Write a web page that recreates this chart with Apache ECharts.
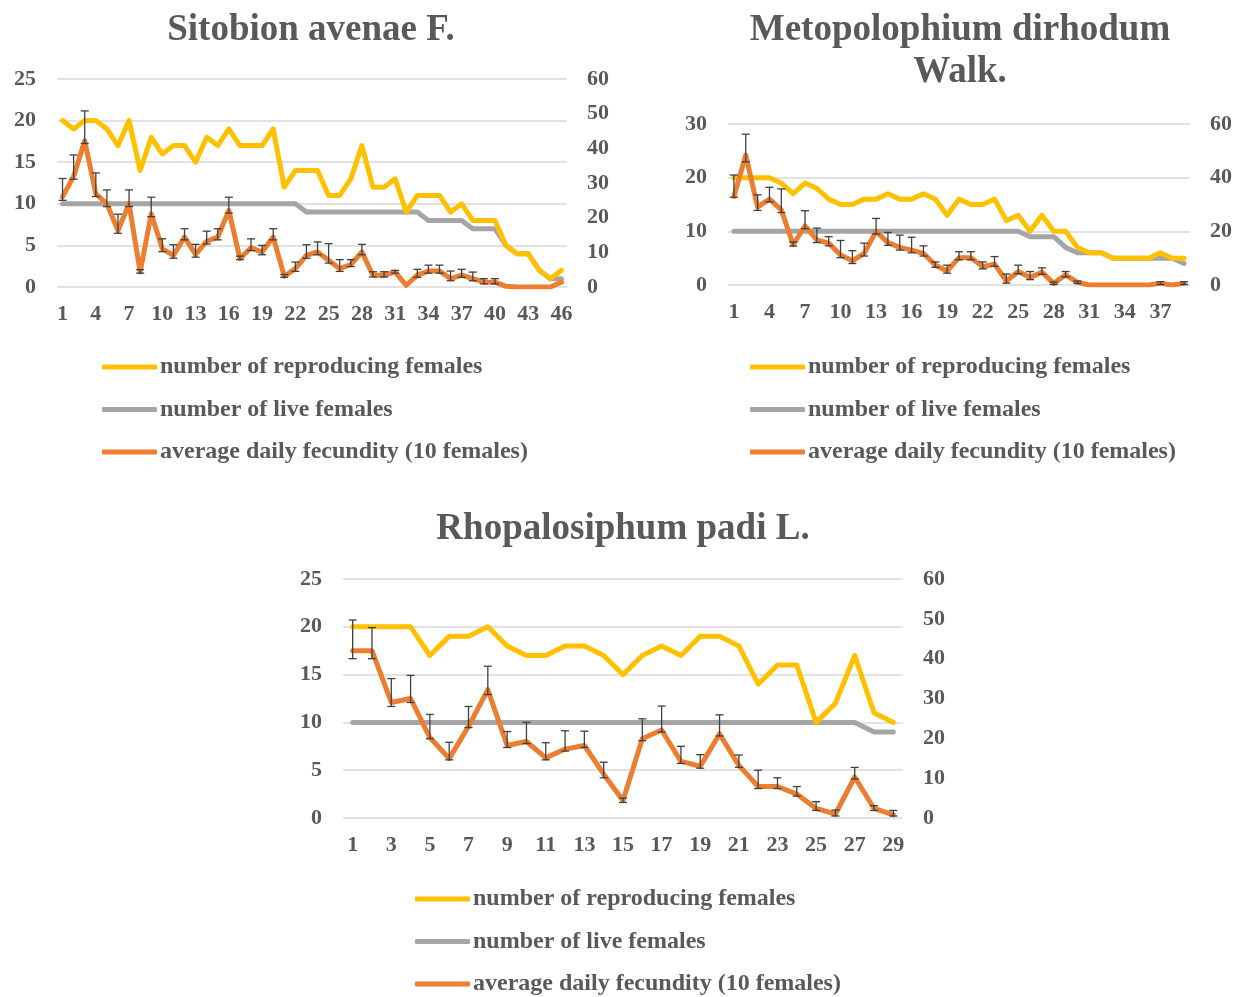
<!DOCTYPE html>
<html>
<head>
<meta charset="utf-8">
<script src="https://cdn.jsdelivr.net/npm/echarts@6/dist/echarts.min.js"></script>
<style>
  html, body { margin: 0; padding: 0; background: #ffffff; }
  #chart { width: 1245px; height: 997px; }
</style>
</head>
<body>
<div id="chart"></div>
<script>
// ---------- DATA ----------
const seriesNames = ['number of reproducing females', 'number of live females', 'average daily fecundity (10 females)'];

// Sitobion avenae F. (46 days)
const sitoDays = Array.from({length: 46}, (_, i) => String(i + 1));
const sitoReproducing = [20,19,20,20,19,17,20,14,18,16,17,17,15,18,17,19,17,17,17,19,12,14,14,14,11,11,13,17,12,12,13,9,11,11,11,9,10,8,8,8,5,4,4,2,1,2];
const sitoLive = [10,10,10,10,10,10,10,10,10,10,10,10,10,10,10,10,10,10,10,10,10,10,9,9,9,9,9,9,9,9,9,9,9,8,8,8,8,7,7,7,5,4,4,2,1,1];
const sitoFecundity = [26.0,31.9,42.2,26.9,24.0,16.3,24.0,4.3,21.1,11.0,9.1,14.4,9.4,13.2,14.4,22.1,8.2,11.3,10.1,14.4,3.1,5.3,9.1,10.1,7.7,5.3,6.5,10.1,3.4,3.4,4.3,0.5,3.4,4.6,4.6,2.4,3.4,2.4,1.4,1.4,0.2,0,0,0,0,1.4];
const sitoErrHigh = [5.3,6.2,8.6,6.0,4.0,4.7,4.0,0.7,4.8,2.9,3.1,2.4,2.9,2.9,2.4,3.8,0.7,2.6,1.9,2.4,0.5,1.9,3.1,2.9,4.8,2.6,1.4,2.2,1.0,1.0,0.5,0,1.7,1.7,1.7,2.2,1.7,1.9,1.0,1.0,0,0,0,0,0,0];
const sitoErrLow = [1.0,0.8,0.8,0.8,0.8,0.8,0.8,0.3,0.8,0.8,0.8,0.8,0.8,0.8,0.8,0.8,0.3,0.8,0.8,0.8,0.3,0.8,0.8,0.8,0.8,0.8,0.6,0.8,0.5,0.5,0.3,0,0.6,0.6,0.6,0.6,0.6,0.6,0.5,0.5,0,0,0,0,0,0];

// Metopolophium dirhodum Walk. (39 days)
const metoDays = Array.from({length: 39}, (_, i) => String(i + 1));
const metoReproducing = [20,20,20,20,19,17,19,18,16,15,15,16,16,17,16,16,17,16,13,16,15,15,16,12,13,10,13,10,10,7,6,6,5,5,5,5,6,5,5];
const metoLive = [10,10,10,10,10,10,10,10,10,10,10,10,10,10,10,10,10,10,10,10,10,10,10,10,10,9,9,9,7,6,6,6,5,5,5,5,5,5,4];
const metoFecundity = [33.0,48.4,29.0,32.0,28.0,15.0,22.0,16.8,15.6,11.2,9.0,11.8,20.0,15.8,14.0,13.0,11.8,7.4,5.2,10.2,10.2,6.8,7.8,1.5,5.0,2.8,4.8,0.6,3.8,1.0,0,0,0,0,0,0,0.6,0,0.6];
const metoErrHigh = [8.0,7.8,4.6,4.4,7.8,1.0,5.7,4.4,2.4,5.4,3.8,3.8,4.8,3.8,4.6,4.8,2.8,1.2,2.2,2.2,2.2,1.8,2.8,2.6,2.4,2.2,1.6,0.5,1.2,0.5,0,0,0,0,0,0,0.6,0,0.6];
const metoErrLow = [0.3,2.5,1.2,1.0,1.0,0.5,1.0,1.0,1.0,1.0,1.0,1.0,1.0,1.0,1.0,1.0,1.0,0.8,0.8,0.8,0.8,0.8,0.8,0.8,0.8,0.8,0.8,0.4,0.8,0.4,0,0,0,0,0,0,0.4,0,0.4];

// Rhopalosiphum padi L. (29 days)
const rhoDays = Array.from({length: 29}, (_, i) => String(i + 1));
const rhoReproducing = [20,20,20,20,17,19,19,20,18,17,17,18,18,17,15,17,18,17,19,19,18,14,16,16,10,12,17,11,10];
const rhoLive = [10,10,10,10,10,10,10,10,10,10,10,10,10,10,10,10,10,10,10,10,10,10,10,10,10,10,10,9,9];
const rhoFecundity = [42.0,42.0,29.0,30.0,20.2,14.9,23.0,32.2,18.2,19.2,15.1,17.3,18.2,11.0,4.4,19.9,22.1,14.2,13.0,21.1,13.2,7.9,7.9,6.0,2.4,1.0,10.3,2.4,0.8];
const rhoErrHigh = [7.7,5.8,6.0,5.8,5.8,4.1,5.0,5.9,3.5,4.8,3.8,4.6,3.6,3.0,0.6,5.0,6.0,3.8,2.9,4.8,2.6,4.1,2.2,1.9,1.7,1.0,2.4,0.7,1.1];
const rhoErrLow = [2.0,2.0,1.0,1.0,0.3,0.3,0.3,1.2,0.5,0.5,0.5,0.5,0.5,0.9,0.5,0.5,0.5,0.5,0.5,0.5,0.5,0.5,0.5,0.5,0.5,0.5,0.5,0.5,0.3];

const titles = ['Sitobion avenae F.', 'Metopolophium dirhodum\nWalk.', 'Rhopalosiphum padi L.'];

// ---------- STYLE ----------
const FONT = "'Liberation Serif', 'Times New Roman', serif";
const TXT = '#595959';
const YELLOW = '#FFC000', GRAY = '#A5A5A5', ORANGE = '#ED7D31';

const panels = [
  { days: sitoDays, rep: sitoReproducing, live: sitoLive, fec: sitoFecundity, eh: sitoErrHigh, el: sitoErrLow,
    grid: {left: 57, top: 79, width: 510, height: 208}, xInterval: 2,
    left: {max: 25, interval: 5}, right: {max: 60, interval: 10},
    title: {x: 311, top: 9}, legend: {left: 102, top: 355} },
  { days: metoDays, rep: metoReproducing, live: metoLive, fec: metoFecundity, eh: metoErrHigh, el: metoErrLow,
    grid: {left: 728, top: 124, width: 462, height: 161}, xInterval: 2,
    left: {max: 30, interval: 10}, right: {max: 60, interval: 20},
    title: {x: 960, top: 9}, legend: {left: 750, top: 355} },
  { days: rhoDays, rep: rhoReproducing, live: rhoLive, fec: rhoFecundity, eh: rhoErrHigh, el: rhoErrLow,
    grid: {left: 343, top: 579, width: 560, height: 239}, xInterval: 1,
    left: {max: 25, interval: 5}, right: {max: 60, interval: 10},
    title: {x: 623, top: 508}, legend: {left: 415, top: 887} }
];

const axisLabelStyle = { fontFamily: FONT, fontWeight: 'bold', fontSize: 22, color: TXT };

const option = {
  backgroundColor: '#ffffff',
  animation: false,
  title: [], legend: [], grid: [], xAxis: [], yAxis: [], series: []
};

panels.forEach((p, k) => {
  option.title.push({
    text: titles[k], left: p.title.x, top: p.title.top, textAlign: 'center', padding: 0,
    textStyle: { fontFamily: FONT, fontWeight: 'bold', fontSize: 37, color: TXT, lineHeight: 42 }
  });
  option.legend.push({
    orient: 'vertical', left: p.legend.left, top: p.legend.top, padding: 0, itemGap: 18.5,
    itemWidth: 55, itemHeight: 5, icon: 'roundRect',
    data: seriesNames.map(n => ({ name: n, itemStyle: { color: n === seriesNames[0] ? YELLOW : n === seriesNames[1] ? GRAY : ORANGE } })),
    textStyle: { fontFamily: FONT, fontWeight: 'bold', fontSize: 24, color: TXT, padding: [0, 0, 0, -2] },
    selectedMode: false
  });
  option.grid.push(Object.assign({ containLabel: false }, p.grid));
  option.xAxis.push({
    type: 'category', gridIndex: k, data: p.days, boundaryGap: true,
    axisLine: { show: false }, axisTick: { show: false }, splitLine: { show: false },
    axisLabel: Object.assign({ interval: p.xInterval, margin: 16 }, axisLabelStyle)
  });
  option.yAxis.push({
    type: 'value', gridIndex: k, min: 0, max: p.left.max, interval: p.left.interval, position: 'left',
    axisLine: { show: false }, axisTick: { show: false },
    splitLine: { show: true, lineStyle: { color: '#D9D9D9', width: 1.5 } },
    axisLabel: Object.assign({ margin: 21 }, axisLabelStyle)
  });
  option.yAxis.push({
    type: 'value', gridIndex: k, min: 0, max: p.right.max, interval: p.right.interval, position: 'right',
    axisLine: { show: false }, axisTick: { show: false }, splitLine: { show: false },
    axisLabel: Object.assign({ margin: 20 }, axisLabelStyle)
  });
  const lineCommon = { type: 'line', xAxisIndex: k, showSymbol: false, symbol: 'none', smooth: false };
  option.series.push(Object.assign({}, lineCommon, {
    name: seriesNames[1], yAxisIndex: 2 * k, data: p.live, z: 2,
    lineStyle: { color: GRAY, width: 5, join: 'round', cap: 'round' }, itemStyle: { color: GRAY }
  }));
  option.series.push(Object.assign({}, lineCommon, {
    name: seriesNames[0], yAxisIndex: 2 * k, data: p.rep, z: 3,
    lineStyle: { color: YELLOW, width: 5, join: 'round', cap: 'round' }, itemStyle: { color: YELLOW }
  }));
  option.series.push(Object.assign({}, lineCommon, {
    name: seriesNames[2], yAxisIndex: 2 * k + 1, data: p.fec, z: 4,
    lineStyle: { color: ORANGE, width: 5, join: 'round', cap: 'round' }, itemStyle: { color: ORANGE }
  }));
  const errData = p.fec.map((v, i) => [i, v - p.el[i], v + p.eh[i]]);
  option.series.push({
    type: 'custom', xAxisIndex: k, yAxisIndex: 2 * k + 1, z: 5, silent: true,
    data: errData,
    renderItem: function (params, api) {
      const x = api.value(0), lo = api.value(1), hi = api.value(2);
      if (hi - lo <= 0) return null;
      const pLo = api.coord([x, Math.max(lo, 0)]);
      const pHi = api.coord([x, hi]);
      const cw = 4;
      const st = { stroke: '#404040', lineWidth: 1.3, fill: null };
      return {
        type: 'group',
        children: [
          { type: 'line', shape: { x1: pHi[0], y1: pHi[1], x2: pLo[0], y2: pLo[1] }, style: st },
          { type: 'line', shape: { x1: pHi[0] - cw, y1: pHi[1], x2: pHi[0] + cw, y2: pHi[1] }, style: st },
          { type: 'line', shape: { x1: pLo[0] - cw, y1: pLo[1], x2: pLo[0] + cw, y2: pLo[1] }, style: st }
        ]
      };
    }
  });
});

const chart = echarts.init(document.getElementById('chart'), null, { renderer: 'canvas' });
chart.setOption(option);
</script>
</body>
</html>
